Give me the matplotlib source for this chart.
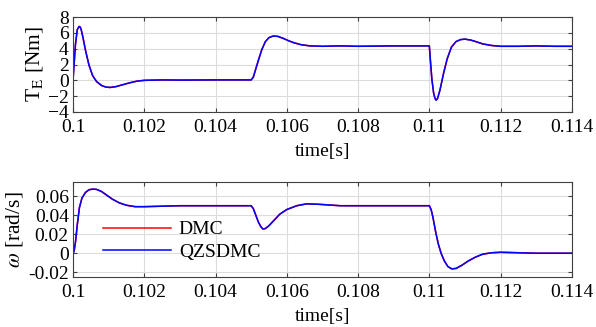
import matplotlib
matplotlib.use("Agg")
import numpy as np
import matplotlib.pyplot as plt

plt.rcParams['font.family'] = ['Liberation Serif', 'DejaVu Serif']
plt.rcParams['mathtext.fontset'] = 'stix'

# time offsets in ms from t = 0.1 s
t_te = [0, 0.03, 0.07, 0.12, 0.17, 0.2, 0.23, 0.28, 0.35, 0.45, 0.55, 0.66, 0.8, 0.92, 1.04,
        1.2, 1.4, 1.6, 1.8, 2.0, 2.5, 3.0, 4.0, 5.0, 5.06, 5.12, 5.2, 5.3, 5.4, 5.5, 5.62,
        5.75, 5.9, 6.05, 6.2, 6.4, 6.65, 7.0, 7.5, 8.0, 9.0, 10.0, 10.03, 10.07, 10.12,
        10.16, 10.19, 10.23, 10.3, 10.4, 10.5, 10.62, 10.75, 10.88, 11.0, 11.15, 11.3,
        11.5, 11.75, 12.0, 12.5, 13.0, 13.5, 14.0]
te_dmc = [0, 2.0, 4.6, 6.4, 6.8, 6.75, 6.4, 5.4, 3.8, 1.9, 0.6, -0.15, -0.65, -0.85, -0.9,
          -0.8, -0.55, -0.3, -0.1, 0.0, 0.05, 0.03, 0.05, 0.05, 0.4, 1.3, 2.5, 3.9, 4.9, 5.4, 5.6,
          5.55, 5.3, 5.0, 4.75, 4.5, 4.35, 4.3, 4.35, 4.3, 4.35, 4.35, 2.5, 0.2, -1.6,
          -2.3, -2.5, -2.3, -1.2, 0.9, 2.7, 4.2, 4.9, 5.15, 5.2, 5.1, 4.9,
          4.6, 4.4, 4.3, 4.3, 4.35, 4.3, 4.3]
te_qzsdmc = list(te_dmc)

t_w = [0, 0.03, 0.07, 0.12, 0.18, 0.25, 0.35, 0.45, 0.55, 0.66, 0.8, 0.95, 1.1, 1.3,
       1.5, 1.75, 2.0, 2.5, 3.0, 4.0, 5.0, 5.06, 5.12, 5.2, 5.27, 5.33, 5.4, 5.5, 5.65,
       5.8, 6.0, 6.28, 6.56, 6.9, 7.5, 8.0, 9.0, 10.0, 10.05, 10.1, 10.18, 10.25, 10.33,
       10.42, 10.52, 10.63, 10.75, 10.9, 11.1, 11.3, 11.5, 11.75, 12.0, 12.5, 13.0, 14.0]
w_dmc = [0, 0.002, 0.012, 0.03, 0.048, 0.058, 0.064, 0.0668, 0.0675, 0.0672, 0.065, 0.061, 0.057, 0.053,
         0.0505, 0.049, 0.049, 0.0495, 0.05, 0.05, 0.05, 0.047, 0.041, 0.033, 0.028, 0.0255, 0.026, 0.029, 0.035,
         0.041, 0.046, 0.05, 0.052, 0.0515, 0.05, 0.05, 0.05, 0.05, 0.046, 0.038, 0.022, 0.01, 0.0,
         -0.008, -0.014, -0.0165, -0.016, -0.013, -0.008, -0.004, -0.001, 0.0005, 0.001, 0.0005, 0.0, 0.0]
w_qzsdmc = list(w_dmc)

xticks = [0.1, 0.102, 0.104, 0.106, 0.108, 0.11, 0.112, 0.114]
xticklabels = ['0.1', '0.102', '0.104', '0.106', '0.108', '0.11', '0.112', '0.114']
te_ticks = [-4, -2, 0, 2, 4, 6, 8]
w_ticks = [-0.02, 0, 0.02, 0.04, 0.06]
w_ticklabels = ['-0.02', '0', '0.02', '0.04', '0.06']

fs = 14
fig = plt.figure(figsize=(5.96, 3.27), dpi=100)
ax1 = fig.add_axes([0.1225, 0.6575, 0.837, 0.2905])
ax2 = fig.add_axes([0.1225, 0.153, 0.837, 0.2905])

def style(ax):
    ax.set_xlim(0.1, 0.114)
    ax.set_xticks(xticks)
    ax.set_xticklabels(xticklabels)
    ax.grid(True, color='#dcdcdc', linewidth=0.8)
    ax.set_axisbelow(True)
    ax.tick_params(direction='in', top=True, right=True, labelsize=fs, length=3,
                   color='#404040')
    ax.tick_params(axis='x', pad=5)
    ax.tick_params(axis='y', pad=3)
    for s in ax.spines.values():
        s.set_color('#404040')
        s.set_linewidth(0.8)
    ax.set_xlabel('time[s]', fontsize=fs, labelpad=5)

tt = 0.1 + np.array(t_te) / 1000
tw = 0.1 + np.array(t_w) / 1000

ax1.plot(tt, te_dmc, color='red', linewidth=1.1)
ax1.plot(tt, te_qzsdmc, color='blue', linewidth=1.1)
style(ax1)
ax1.set_ylim(-4, 8)
ax1.set_yticks(te_ticks)
ax1.set_ylabel(r'T$_\mathrm{E}$ [Nm]', fontsize=15.5, labelpad=2)

ax2.plot(tw, w_dmc, color='red', linewidth=1.1, label='DMC')
ax2.plot(tw, w_qzsdmc, color='blue', linewidth=1.1, label='QZSDMC')
style(ax2)
ax2.set_ylim(-0.025, 0.075)
ax2.set_yticks(w_ticks)
ax2.set_yticklabels(w_ticklabels)
ax2.set_ylabel(r'$\omega$ [rad/s]', fontsize=15.5, labelpad=2)
ax2.legend(loc='center left', bbox_to_anchor=(0.025, 0.38), frameon=False, fontsize=fs,
           handlelength=3.5, handletextpad=0.4, labelspacing=0.25)

fig.savefig('out.png', dpi=100)
